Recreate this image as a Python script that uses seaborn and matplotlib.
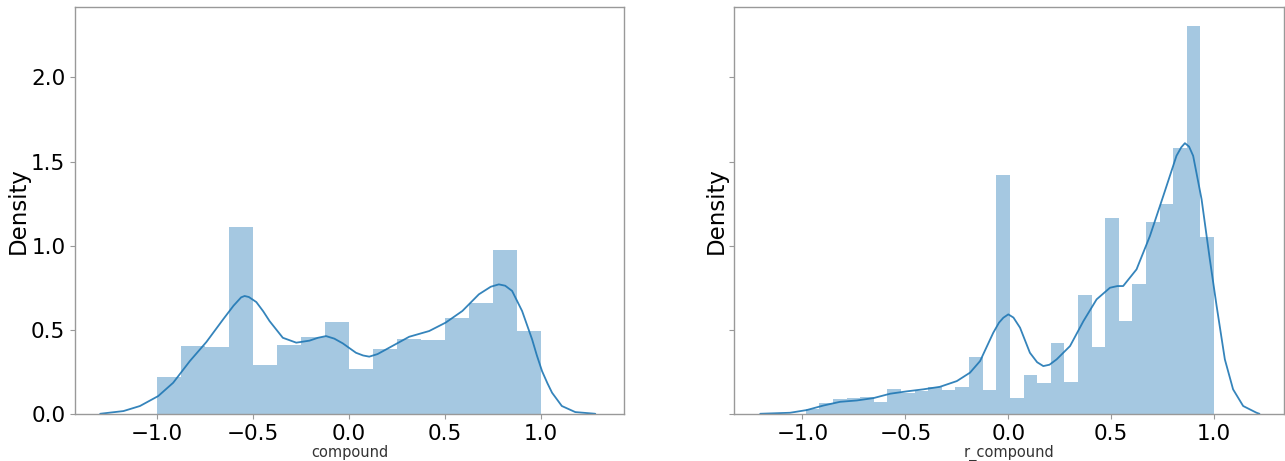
import numpy as np
import pandas as pd
import seaborn as sns
import matplotlib
matplotlib.use("Agg")
import matplotlib.pyplot as plt

# histogram bar heights (density)
compound_edges = np.linspace(-1.0, 1.0, 17)
compound_heights = [0.225, 0.405, 0.401, 1.111, 0.295, 0.415, 0.459, 0.548,
                    0.267, 0.390, 0.445, 0.441, 0.573, 0.662, 0.975, 0.494]

r_compound_edges = np.linspace(-0.984, 0.9995, 31)
r_compound_heights = [0.034, 0.065, 0.089, 0.095, 0.105, 0.073, 0.149, 0.125,
                      0.137, 0.160, 0.143, 0.162, 0.343, 0.145, 1.420, 0.099,
                      0.232, 0.188, 0.426, 0.194, 0.707, 0.402, 1.168, 0.552,
                      0.772, 1.143, 1.248, 1.584, 2.307, 1.053]

# kde curves, points
compound_kde_x = [-1.294, -1.173, -1.087, -0.992, -0.914, -0.827, -0.741, -0.654,
                  -0.600, -0.560, -0.542, -0.520, -0.481, -0.445, -0.412, -0.343,
                  -0.273, -0.204, -0.160, -0.118, -0.075, -0.031, 0.038, 0.075,
                  0.107, 0.150, 0.211, 0.315, 0.419, 0.505, 0.592, 0.678, 0.740,
                  0.782, 0.815, 0.851, 0.903, 0.955, 0.980, 1.007, 1.035, 1.059,
                  1.110, 1.180, 1.284]
compound_kde_y = [0.004, 0.020, 0.050, 0.109, 0.188, 0.317, 0.430, 0.564,
                  0.645, 0.695, 0.703, 0.697, 0.667, 0.612, 0.554, 0.455,
                  0.426, 0.438, 0.455, 0.465, 0.450, 0.422, 0.366, 0.350,
                  0.343, 0.358, 0.396, 0.461, 0.495, 0.545, 0.614, 0.713, 0.758,
                  0.772, 0.764, 0.733, 0.614, 0.446, 0.350, 0.257, 0.185, 0.129,
                  0.050, 0.014, 0.004]

r_compound_kde_x = [-1.205, -1.060, -0.979, -0.898, -0.817, -0.736, -0.655, -0.574,
                    -0.493, -0.413, -0.332, -0.250, -0.186, -0.137, -0.073, -0.045,
                    -0.024, 0.000, 0.025, 0.057, 0.105, 0.140, 0.170, 0.200, 0.235,
                    0.300, 0.365, 0.429, 0.494, 0.530, 0.558, 0.623, 0.688, 0.753,
                    0.817, 0.840, 0.858, 0.878, 0.898, 0.939, 0.979, 1.012, 1.052,
                    1.092, 1.141, 1.206, 1.220]
r_compound_kde_y = [0.004, 0.010, 0.026, 0.053, 0.075, 0.083, 0.097, 0.123,
                    0.137, 0.149, 0.164, 0.198, 0.248, 0.317, 0.485, 0.545,
                    0.574, 0.594, 0.575, 0.515, 0.366, 0.310, 0.287, 0.295, 0.327,
                    0.406, 0.554, 0.683, 0.752, 0.762, 0.762, 0.861, 1.059, 1.297,
                    1.535, 1.585, 1.610, 1.590, 1.535, 1.277, 0.921, 0.644, 0.327,
                    0.149, 0.050, 0.010, 0.004]

columns = ["compound", "r_compound"]
edges = [compound_edges, r_compound_edges]
heights = [compound_heights, r_compound_heights]
kde_x = [compound_kde_x, r_compound_kde_x]
kde_y = [compound_kde_y, r_compound_kde_y]
xlims = [(-1.425, 1.436), (-1.331, 1.338)]

sns.set_style("white")
plt.rcParams['font.family'] = ['DejaVu Sans']
blue = sns.color_palette()[0]

fig, axes = plt.subplots(1, 2, figsize=(12.85, 4.61), dpi=100)
fig.subplots_adjust(left=0.0584, right=0.9990, bottom=0.101, top=0.984, wspace=0.2)

for i, c in enumerate(columns):
    ax = axes[i]
    e = np.asarray(edges[i])
    centers = (e[:-1] + e[1:]) / 2
    hist = pd.DataFrame({c: centers, "w": heights[i]})
    sns.histplot(data=hist, x=c, weights="w", bins=e.tolist(), stat="count",
                 color=blue, alpha=0.4, linewidth=0, ax=ax)
    kde = pd.DataFrame({c: kde_x[i], "d": kde_y[i]})
    sns.lineplot(data=kde, x=c, y="d", color=blue, lw=1.3, alpha=0.9, ax=ax)
    ax.set_xlim(*xlims[i])
    ax.set_ylim(0, 2.416)
    ax.set_xticks([-1.0, -0.5, 0.0, 0.5, 1.0])
    ax.set_yticks([0.0, 0.5, 1.0, 1.5, 2.0])
    ax.set_xlabel(c, fontsize=10.5, color="#333333", labelpad=0.5)
    ax.set_ylabel("Density", fontsize=16.5, color="black", labelpad=1)
    ax.tick_params(axis="both", labelsize=15.5, colors="#999999", labelcolor="black",
                   length=3.5, width=0.8, left=True, bottom=True)
    for s in ax.spines.values():
        s.set_color("#999999")
        s.set_linewidth(1.0)

axes[1].tick_params(axis="y", labelleft=False)

fig.savefig("out.png", dpi=100)
